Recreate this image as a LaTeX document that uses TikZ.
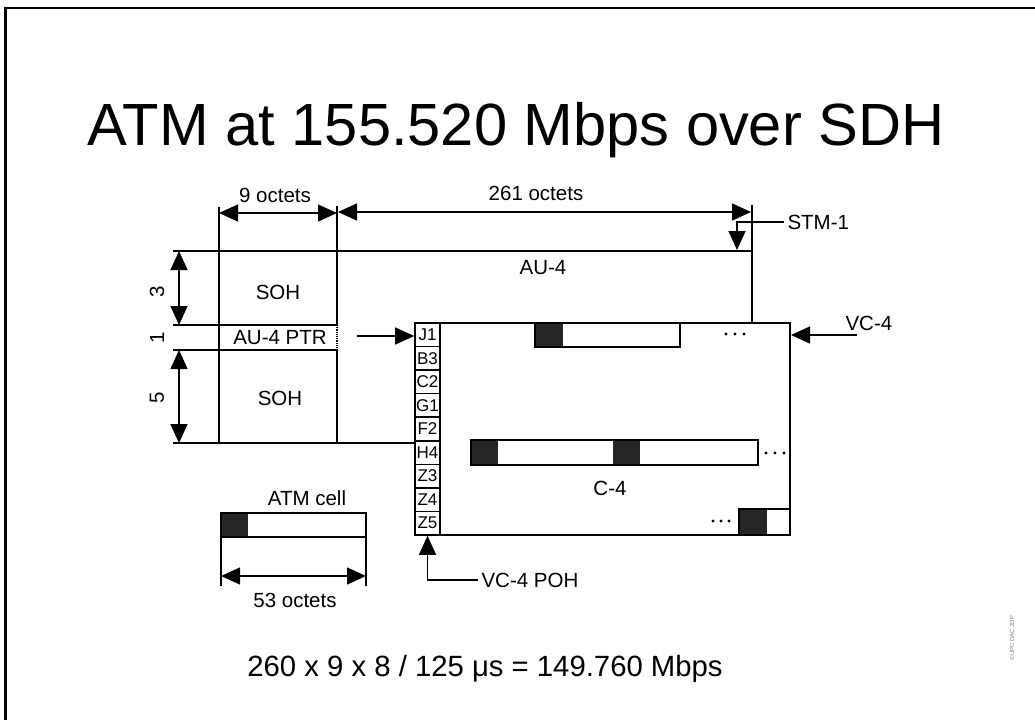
\documentclass[tikz,border=0pt]{standalone}
\usepackage{fontspec}
\setmainfont{Liberation Sans}
\usetikzlibrary{arrows.meta}

\tikzset{
  dimline/.style={line width=1.3pt,{Triangle[length=19pt,width=17pt]}-{Triangle[length=19pt,width=17pt]}},
  ptrline/.style={line width=1.3pt,-{Triangle[length=19pt,width=17pt]}},
  rowline/.style={line width=1.7pt},
  lbl/.style={font=\fontsize{20.5}{24}\selectfont},
  pohcell/.style={draw,line width=1.6pt,minimum width=25pt,minimum height=23.55pt,inner sep=0pt,font=\fontsize{17}{19}\selectfont},
  cellbox/.style={draw,line width=1.7pt},
}

\begin{document}
\begin{tikzpicture}[x=1pt,y=-1pt]
\useasboundingbox (0,0) rectangle (1035,720);

% Slide frame
\draw[line width=2.5pt] (5.5,720) -- (5.5,8) -- (1035,8);

% Title
\node[anchor=base,font=\fontsize{59.6}{66}\selectfont] (title) at (516,145) {ATM at 155.520 Mbps over SDH};

% -------- Octet dimensions --------
\draw[line width=1.3pt] (219,207) -- (219,443);
\draw[line width=1.3pt] (337,206) -- (337,251);
\draw[line width=1.3pt] (752,205) -- (752,323);
\draw[dimline] (219,213) -- (337,213);
\draw[dimline] (338,212) -- (751,212);
\node[lbl] (nineoct) at (275,195) {9 octets};
\node[lbl] (twosixoneoct) at (536,193) {261 octets};

% STM-1 pointer
\node[lbl,anchor=west] (stm) at (784,222) {STM-1};
\coordinate (stmtip) at (737,250);
\draw[ptrline] (stm.west) -| (stmtip);

% -------- Frame rows --------
\draw[rowline] (173,251) -- (752,251);
\draw[rowline] (173,325) -- (337,325);
\draw[rowline] (173,350) -- (337,350);
\draw[rowline] (173,443) -- (415,443);
\draw[rowline] (337,251) -- (337,325);
\draw[line width=1.2pt,densely dotted] (337,325) -- (337,350);
\draw[rowline] (337,350) -- (337,443);

% Row counts
\draw[dimline] (179,251) -- (179,325);
\draw[dimline] (179,350) -- (179,443);
\node[lbl,rotate=90] (rowsthree) at (157,292) {3};
\node[lbl,rotate=90] (rowsone) at (157,338) {1};
\node[lbl,rotate=90] (rowsfive) at (157,398) {5};

\node[lbl] (sohtop) at (278,292) {SOH};
\node[lbl] (ptr) at (280,338) {AU-4 PTR};
\node[lbl] (sohbot) at (280,398) {SOH};
\node[lbl] (aufour) at (543,268) {AU-4};

% -------- VC-4 --------
\draw[cellbox] (415,323) rectangle (790,535);
\foreach \name [count=\i from 0] in {J1,B3,C2,G1,F2,H4,Z3,Z4,Z5}
  \node[pohcell] (\name) at (427.5,{334.8+23.55*\i}) {\name};

\coordinate (ptrtail) at (357,336);
\draw[ptrline] (ptrtail) -- (ptrtail -| J1.west);

\node[lbl,anchor=west] (vcfour) at (842,323) {VC-4};
\coordinate (vctail) at (857,335);
\coordinate (vctip) at (791,335);
\draw[ptrline] (vctail) -- (vctip);

\node[lbl,anchor=west] (poh) at (478,580) {VC-4 POH};
\draw[ptrline] (poh.west) -| (Z5.south);

% C-4 cells
\fill[black!85] (535,323) rectangle (563,347);
\draw[cellbox] (535,323) rectangle (680,347);

\fill[black!85] (471,440) rectangle (498,465);
\fill[black!85] (613,440) rectangle (640,465);
\draw[cellbox] (471,440) rectangle (758,465);

\fill[black!85] (739,509) rectangle (767,535);
\draw[cellbox] (739,509) rectangle (790,535);

\foreach \x in {726,735,744} \fill (\x,334) circle (1.7);
\foreach \x in {766,775,784} \fill (\x,453) circle (1.7);
\foreach \x in {713,721,729} \fill (\x,521) circle (1.7);

\node[lbl] (cfour) at (610,488) {C-4};

% -------- ATM cell --------
\node[lbl] (atmcell) at (307,498) {ATM cell};
\fill[black!85] (221,513) rectangle (248,537);
\draw[cellbox] (221,513) rectangle (366,537);
\draw[line width=1.3pt] (221,537) -- (221,586);
\draw[line width=1.3pt] (366,537) -- (366,586);
\draw[dimline] (221,576) -- (366,576);
\node[lbl] (fiftythreeoct) at (295,600) {53 octets};

% Payload rate
\node[anchor=base,font=\fontsize{29.3}{34}\selectfont] (rate) at (485,676) {260 x 9 x 8 / 125 μs = 149.760 Mbps};

% Credit
\node[rotate=90,font=\fontsize{6}{7}\selectfont,gray] (credit) at (1012,638) {©UPC DAC JDP};

\end{tikzpicture}
\end{document}
